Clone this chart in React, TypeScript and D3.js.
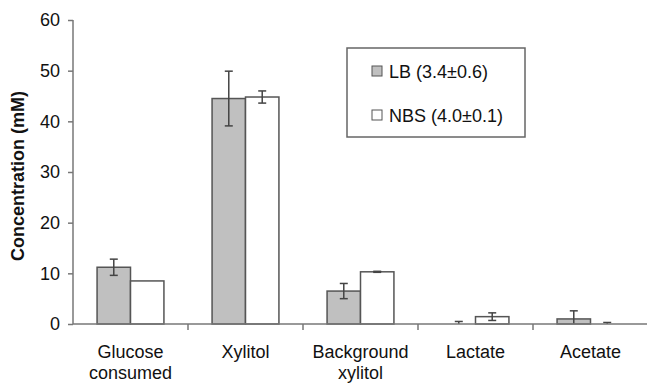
import React, { useEffect, useRef } from 'react';
import * as d3 from 'd3';

const categories = ['Glucose\nconsumed', 'Xylitol', 'Background\nxylitol', 'Lactate', 'Acetate'];
const seriesNames = ['LB (3.4±0.6)', 'NBS (4.0±0.1)'];
const lbValues = [11.2, 44.5, 6.5, 0, 1.0];
const lbErrors = [1.6, 5.4, 1.5, 0.5, 1.6];
const nbsValues = [8.5, 44.8, 10.3, 1.45, 0];
const nbsErrors = [0, 1.2, 0.1, 0.75, 0.3];
const yTicks = [0, 10, 20, 30, 40, 50, 60];

const fillColors = ['#c0c0c0', '#ffffff'];

function App() {
    const svgRef = useRef(null);

    useEffect(() => {
        const svg = d3.select(svgRef.current);
        svg.selectAll('*').remove();

        const width = 647;
        const height = 386;
        const margin = { top: 20, right: -1, bottom: 62, left: 73 };
        const font = 'Arial, "Liberation Sans", sans-serif';

        const x = d3.scaleBand()
            .domain(categories)
            .range([margin.left, width - margin.right])
            .padding(0);

        const xInner = d3.scaleBand()
            .domain(['LB', 'NBS'])
            .range([0, x.bandwidth()])
            .paddingInner(0)
            .paddingOuter(0.72);

        const y = d3.scaleLinear()
            .domain([0, 60])
            .range([height - margin.bottom, margin.top]);

        const series = [
            { key: 'LB', values: lbValues, errors: lbErrors },
            { key: 'NBS', values: nbsValues, errors: nbsErrors },
        ];

        // bars (zero values draw nothing)
        series.forEach((s, si) => {
            svg.append('g')
                .selectAll('rect')
                .data(s.values.map((v, i) => ({ v, c: categories[i] })).filter(d => d.v > 0))
                .enter()
                .append('rect')
                .attr('x', d => x(d.c) + xInner(s.key))
                .attr('y', d => y(d.v))
                .attr('width', xInner.bandwidth())
                .attr('height', d => y(0) - y(d.v))
                .attr('fill', fillColors[si])
                .attr('stroke', '#555')
                .attr('stroke-width', 1.5);
        });

        // error bars
        series.forEach(s => {
            s.values.forEach((v, i) => {
                const e = s.errors[i];
                if (e <= 0) return;
                const cx = x(categories[i]) + xInner(s.key) + xInner.bandwidth() / 2;
                const top = y(v + e);
                const bot = y(Math.max(0, v - e));
                const g = svg.append('g').attr('stroke', '#444').attr('stroke-width', 1.5);
                g.append('line').attr('x1', cx).attr('x2', cx).attr('y1', top).attr('y2', bot);
                g.append('line').attr('x1', cx - 4).attr('x2', cx + 4).attr('y1', top).attr('y2', top);
                if (v - e > 0) {
                    g.append('line').attr('x1', cx - 4).attr('x2', cx + 4).attr('y1', bot).attr('y2', bot);
                }
            });
        });

        // Y Axis
        const yAxis = svg.append('g')
            .attr('transform', `translate(${margin.left},0)`)
            .call(d3.axisLeft(y).tickValues(yTicks).tickSize(5).tickPadding(8));
        yAxis.selectAll('path, line').attr('stroke', '#777').attr('stroke-width', 1.5);
        yAxis.select('.domain').attr('d', `M0,${y(60)}V${y(0)}`);
        yAxis.selectAll('text')
            .style('font-family', font)
            .style('font-size', '18px')
            .style('fill', '#111');

        // X Axis
        const xAxis = svg.append('g')
            .attr('transform', `translate(0,${y(0)})`);
        xAxis.append('line')
            .attr('x1', margin.left)
            .attr('x2', width)
            .attr('stroke', '#777')
            .attr('stroke-width', 1.5);
        xAxis.selectAll('.tick')
            .data(categories)
            .enter()
            .append('line')
            .attr('x1', d => x(d) + x.bandwidth())
            .attr('x2', d => x(d) + x.bandwidth())
            .attr('y1', 0)
            .attr('y2', 6)
            .attr('stroke', '#777')
            .attr('stroke-width', 1.5);

        const labels = svg.append('g')
            .style('font-family', font)
            .style('font-size', '18px')
            .style('fill', '#111');
        categories.forEach(c => {
            const t = labels.append('text')
                .attr('x', x(c) + x.bandwidth() / 2)
                .attr('y', y(0) + 34)
                .attr('text-anchor', 'middle');
            c.split('\n').forEach((line, li) => {
                t.append('tspan')
                    .attr('x', x(c) + x.bandwidth() / 2)
                    .attr('dy', li === 0 ? 0 : 21)
                    .text(line);
            });
        });

        // Y Axis label
        svg.append('text')
            .attr('transform', `translate(24,${(y(0) + y(60)) / 2 + 4}) rotate(-90)`)
            .style('text-anchor', 'middle')
            .style('font-family', font)
            .style('font-size', '18px')
            .style('font-weight', 'bold')
            .style('fill', '#111')
            .text('Concentration (mM)');

        // legend
        const legend = svg.append('g').attr('transform', 'translate(347,48)');
        legend.append('rect')
            .attr('width', 178)
            .attr('height', 89)
            .attr('fill', '#fff')
            .attr('stroke', '#666')
            .attr('stroke-width', 1.5);
        seriesNames.forEach((name, i) => {
            legend.append('rect')
                .attr('x', 25)
                .attr('y', 18 + i * 44)
                .attr('width', 10)
                .attr('height', 10)
                .attr('fill', fillColors[i])
                .attr('stroke', '#555')
                .attr('stroke-width', 1);
            legend.append('text')
                .attr('x', 42)
                .attr('y', 29.5 + i * 44)
                .style('font-family', font)
                .style('font-size', '18px')
                .style('fill', '#111')
                .text(name);
        });
    }, []);

    return (
        <svg ref={svgRef} width={647} height={386}
            style={{ position: 'absolute', left: 0, top: 0, background: '#fff' }}></svg>
    );
}

export default App;
